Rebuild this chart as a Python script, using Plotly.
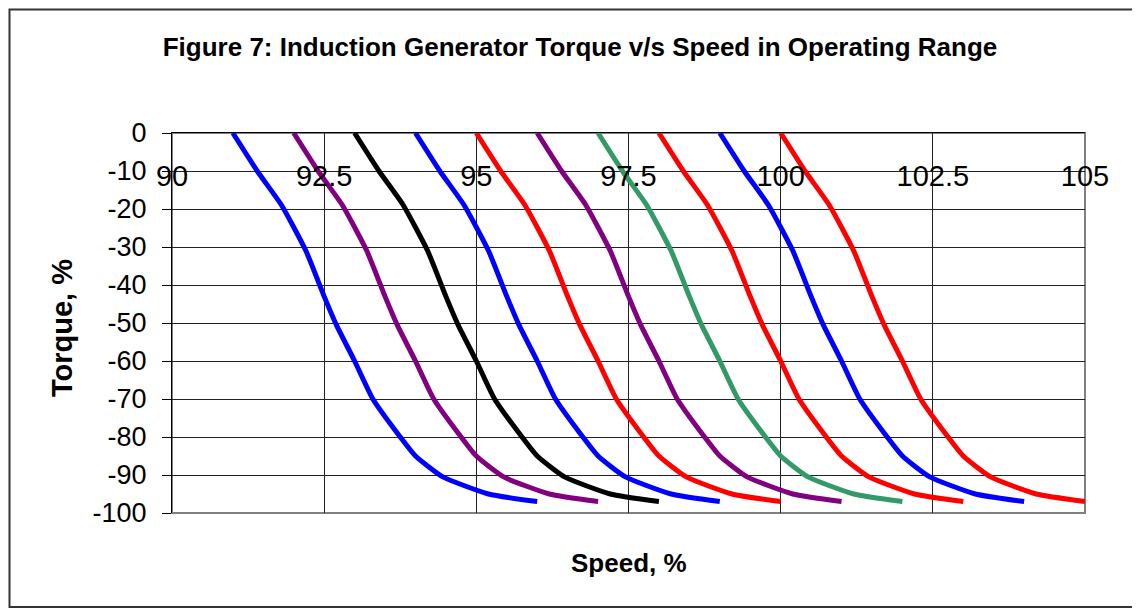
import plotly.graph_objects as go

torque = [0, -10, -19, -31, -43, -50.5, -60, -70, -80, -85, -90.5, -95, -97]

speed_1 = [91, 91.4, 91.8, 92.2, 92.5, 92.7, 93, 93.3, 93.75, 94, 94.45, 95.2, 96]
speed_2 = [92, 92.4, 92.8, 93.2, 93.5, 93.7, 94, 94.3, 94.75, 95, 95.45, 96.2, 97]
speed_3 = [93, 93.4, 93.8, 94.2, 94.5, 94.7, 95, 95.3, 95.75, 96, 96.45, 97.2, 98]
speed_4 = [94, 94.4, 94.8, 95.2, 95.5, 95.7, 96, 96.3, 96.75, 97, 97.45, 98.2, 99]
speed_5 = [95, 95.4, 95.8, 96.2, 96.5, 96.7, 97, 97.3, 97.75, 98, 98.45, 99.2, 100]
speed_6 = [96, 96.4, 96.8, 97.2, 97.5, 97.7, 98, 98.3, 98.75, 99, 99.45, 100.2, 101]
speed_7 = [97, 97.4, 97.8, 98.2, 98.5, 98.7, 99, 99.3, 99.75, 100, 100.45, 101.2, 102]
speed_8 = [98, 98.4, 98.8, 99.2, 99.5, 99.7, 100, 100.3, 100.75, 101, 101.45, 102.2, 103]
speed_9 = [99, 99.4, 99.8, 100.2, 100.5, 100.7, 101, 101.3, 101.75, 102, 102.45, 103.2, 104]
speed_10 = [100, 100.4, 100.8, 101.2, 101.5, 101.7, 102, 102.3, 102.75, 103, 103.45, 104.2, 105]

series_speeds = [speed_1, speed_2, speed_3, speed_4, speed_5,
                 speed_6, speed_7, speed_8, speed_9, speed_10]
series_colors = ["#0000FF", "#800080", "#000000", "#0000FF", "#FF0000",
                 "#800080", "#339966", "#FF0000", "#0000FF", "#FF0000"]

x_tickvals = [90, 92.5, 95, 97.5, 100, 102.5, 105]
x_ticktext = ["90", "92.5", "95", "97.5", "100", "102.5", "105"]
y_tickvals = [0, -10, -20, -30, -40, -50, -60, -70, -80, -90, -100]
y_ticktext = ["0", "-10", "-20", "-30", "-40", "-50", "-60", "-70", "-80", "-90", "-100"]

FONT = "Liberation Sans, Arial, sans-serif"
OFF = 8  # default page body margin
W, H = 1140 - OFF, 610 - OFF
L, T = 172 - OFF, 133 - OFF
R = W - (1085 - OFF)
B = H - (513 - OFF)
PW, PH = W - L - R, H - T - B

fig = go.Figure()
for i, (sp, col) in enumerate(zip(series_speeds, series_colors)):
    fig.add_trace(go.Scatter(x=sp, y=torque, mode="lines",
                             line=dict(color=col, width=5, shape="spline", smoothing=0.5),
                             name=f"Series {i+1}", showlegend=False))

def px_to_paper_x(px):
    return (px - OFF - L) / PW

def px_to_paper_y(py):
    return (H - B - (py - OFF)) / PH

shapes = [
    dict(type="rect", xref="x domain", yref="y domain", x0=0, x1=1, y0=0, y1=1,
         line=dict(color="#808080", width=2), layer="below"),
    dict(type="rect", xref="paper", yref="paper",
         x0=px_to_paper_x(9.5), x1=px_to_paper_x(1133),
         y0=px_to_paper_y(607), y1=px_to_paper_y(9.5),
         line=dict(color="#333333", width=2), layer="below"),
]

fig.update_layout(
    width=W, height=H,
    margin=dict(l=L, r=R, t=T, b=B, pad=0),
    paper_bgcolor="white", plot_bgcolor="white",
    font=dict(family=FONT, color="black"),
    title=dict(text="<b>Figure 7: Induction Generator Torque v/s Speed in Operating Range</b>",
               font=dict(family=FONT, size=26, color="black"),
               x=(580 - OFF) / W, xref="container", xanchor="center",
               y=1 - (47 - OFF) / H, yref="container", yanchor="middle"),
    xaxis=dict(range=[90, 105], side="top", tickvals=x_tickvals, ticktext=x_ticktext,
               ticklabelposition="inside", ticklabeloverflow="allow",
               ticklabelstandoff=36,
               tickfont=dict(family=FONT, size=29, color="black"),
               showgrid=True, gridcolor="#222222", gridwidth=1,
               showline=True, linecolor="black", linewidth=1,
               ticks="", zeroline=False),
    yaxis=dict(range=[-100, 0], tickvals=y_tickvals, ticktext=y_ticktext,
               tickfont=dict(family=FONT, size=27, color="black"),
               ticks="outside", ticklen=9, tickcolor="black", tickwidth=1,
               ticklabelstandoff=10,
               showgrid=True, gridcolor="#222222", gridwidth=1,
               showline=True, linecolor="black", linewidth=1,
               zeroline=False),
    shapes=shapes,
    annotations=[
        dict(text="<b>Speed, %</b>", xref="paper", yref="paper",
             x=0.5, y=px_to_paper_y(563), xanchor="center", yanchor="middle",
             showarrow=False, font=dict(family=FONT, size=26, color="black")),
        dict(text="<b>Torque, %</b>", xref="paper", yref="paper",
             x=px_to_paper_x(62), y=px_to_paper_y(328), xanchor="center", yanchor="middle",
             textangle=-90, showarrow=False, font=dict(family=FONT, size=29, color="black")),
    ],
)

fig.write_html("out.html")
